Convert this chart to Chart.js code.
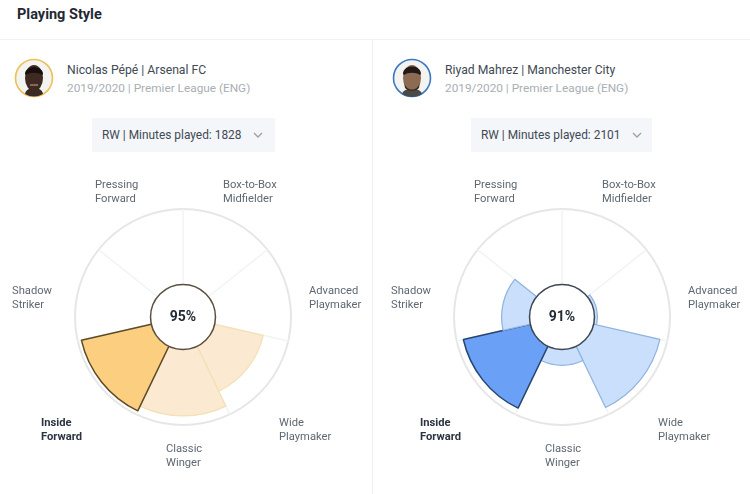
<!DOCTYPE html>
<html>
<head>
<meta charset="utf-8">
<title>Playing Style</title>
<script src="https://cdn.jsdelivr.net/npm/chart.js@4"></script>
<style>
    html, body { margin: 0; padding: 0; background: #fff; }
    body { width: 750px; height: 494px; position: relative; overflow: hidden; font-family: Roboto, sans-serif; }
    h1 { position: absolute; left: 17px; top: 6px; margin: 0; font-size: 14.5px; line-height: 18px; font-weight: 700; color: #1f2933; }
    .hline { position: absolute; left: 0; top: 39px; width: 750px; height: 1px; background: #f0f1f3; }
    .vline { position: absolute; left: 372px; top: 40px; width: 1px; height: 454px; background: #eeeff1; }
    .avatar { position: absolute; top: 58px; width: 40px; height: 40px; }
    .name { position: absolute; top: 63px; font-size: 12.2px; line-height: 15px; color: #414a54; white-space: nowrap; }
    .season { position: absolute; top: 81px; font-size: 11.8px; line-height: 15px; color: #a9aeb4; white-space: nowrap; }
    .select { position: absolute; top: 118px; width: 183px; height: 34px; background: #f4f6f9; font-size: 11.9px; line-height: 34px; color: #414a54; text-indent: 10px; white-space: nowrap; }
    .select svg { position: absolute; left: 161px; top: 14px; }
    canvas { position: absolute; top: 156px; }
</style>
</head>
<body>
<h1>Playing Style</h1>
<div class="hline"></div>
<div class="vline"></div>

<svg class="avatar" style="left:14px" viewBox="0 0 40 40">
    <circle cx="20" cy="20" r="18.5" fill="#f3f3f2" stroke="#eebf55" stroke-width="1.6"/>
    <path d="M11 36c1-5 5-6 9-6s8 1 9 6a18 18 0 0 1-18 0z" fill="#3a2a24"/>
    <ellipse cx="20" cy="20" rx="9" ry="13" fill="#3f2a22"/>
    <path d="M11 16c0-9 18-9 18 0l-1 1c-4-3-12-3-16 0z" fill="#17100e"/>
    <path d="M16 27h8" stroke="#c9a596" stroke-width="1"/>
</svg>
<div class="name" style="left:67px">Nicolas Pépé | Arsenal FC</div>
<div class="season" style="left:67px">2019/2020 | Premier League (ENG)</div>
<div class="select" style="left:92px">RW | Minutes played: 1828
    <svg width="10" height="6" viewBox="0 0 10 6"><path d="M1 1l4 4 4-4" fill="none" stroke="#9aa1a9" stroke-width="1.3"/></svg>
</div>

<svg class="avatar" style="left:392px" viewBox="0 0 40 40">
    <circle cx="20" cy="20" r="18.5" fill="#f3f3f2" stroke="#3b78c2" stroke-width="1.6"/>
    <path d="M10 36c2-5 6-5 10-5s8 0 10 5a18 18 0 0 1-20 0z" fill="#4a4a4a"/>
    <ellipse cx="20" cy="20" rx="9" ry="13" fill="#8d6a52"/>
    <path d="M11 16c0-10 18-10 18 0l-1 1c-4-3-12-3-16 0z" fill="#221a16"/>
    <path d="M12 24c2 10 14 10 16 0l-1 6c-3 4-11 4-14 0z" fill="#3a2c25"/>
</svg>
<div class="name" style="left:445px">Riyad Mahrez | Manchester City</div>
<div class="season" style="left:445px">2019/2020 | Premier League (ENG)</div>
<div class="select" style="left:471px;width:181px">RW | Minutes played: 2101
    <svg width="10" height="6" viewBox="0 0 10 6"><path d="M1 1l4 4 4-4" fill="none" stroke="#9aa1a9" stroke-width="1.3"/></svg>
</div>

<canvas id="pepeChart" width="366" height="322" style="left:0"></canvas>
<canvas id="mahrezChart" width="366" height="322" style="left:379px"></canvas>

<script>
'use strict';

const categories = [
    ['Box-to-Box', 'Midfielder'],
    ['Advanced', 'Playmaker'],
    ['Wide', 'Playmaker'],
    ['Classic', 'Winger'],
    ['Inside', 'Forward'],
    ['Shadow', 'Striker'],
    ['Pressing', 'Forward']
];
const pepeValues = [0, 0, 66, 88, 95, 0, 0];
const mahrezValues = [0, 4, 90, 21, 91, 37, 0];
const pepeScore = '95%';
const mahrezScore = '91%';
const bestIndex = 4;

// label anchor (left edge, vertical middle) relative to the centre of the wheel
const labelOffsets = [[40, -125], [126, -19], [96, 113], [-17, 139], [-142, 113], [-171, -19], [-88, -125]];

const pepeColors = { strong: '#fccf80', strongLine: '#5c4a2a', light: '#fbe9d1', lightLine: '#f4e0b2', ring: '#5a4f3d' };
const mahrezColors = { strong: '#6aa0f6', strongLine: '#27466f', light: '#c9dffc', lightLine: '#8fb3de', ring: '#3c4754' };

// white hub with the score and the labels around the wheel
const wheelExtras = {
    id: 'wheelExtras',
    afterDatasetsDraw(chart, args, opts) {
        const r = chart.scales.r;
        const ctx = chart.ctx;
        ctx.save();
        ctx.beginPath();
        ctx.arc(r.xCenter, r.yCenter, r.getDistanceFromCenterForValue(0), 0, Math.PI * 2);
        ctx.fillStyle = '#fff';
        ctx.fill();
        ctx.lineWidth = 1.5;
        ctx.strokeStyle = opts.ring;
        ctx.stroke();

        ctx.fillStyle = '#1f2933';
        ctx.font = '700 14px Roboto, sans-serif';
        ctx.textAlign = 'center';
        ctx.textBaseline = 'middle';
        ctx.fillText(opts.score, r.xCenter, r.yCenter);

        ctx.textAlign = 'left';
        chart.data.labels.forEach((lines, i) => {
            ctx.font = (i === bestIndex ? '700' : '400') + ' 11.2px Roboto, sans-serif';
            ctx.fillStyle = i === bestIndex ? '#2b3440' : '#5f6873';
            const x = r.xCenter + labelOffsets[i][0];
            const y = r.yCenter + labelOffsets[i][1];
            ctx.fillText(lines[0], x, y - 7);
            ctx.fillText(lines[1], x, y + 7);
        });
        ctx.restore();
    }
};

function drawWheel(canvasId, values, colors, score) {
    const best = Math.max(...values);
    new Chart(document.getElementById(canvasId), {
        type: 'polarArea',
        data: {
            labels: categories,
            datasets: [{
                data: values,
                backgroundColor: values.map(v => v === best ? colors.strong : colors.light),
                borderColor: values.map(v => v === best ? colors.strongLine : v > 0 ? colors.lightLine : 'transparent'),
                borderWidth: values.map(v => v === best ? 1.5 : 1.2)
            }]
        },
        options: {
            responsive: false,
            animation: false,
            layout: { padding: { top: 53, bottom: 53 } },
            plugins: {
                legend: { display: false },
                tooltip: { enabled: false },
                wheelExtras: { score: score, ring: colors.ring }
            },
            scales: {
                r: {
                    min: -43,
                    max: 100,
                    ticks: { display: false, stepSize: 143 },
                    grid: { color: '#e6e6e6', lineWidth: 2, circular: true },
                    angleLines: { display: true, color: '#f1f3f5', lineWidth: 1.5 },
                    pointLabels: { display: false }
                }
            }
        },
        plugins: [wheelExtras]
    });
}

drawWheel('pepeChart', pepeValues, pepeColors, pepeScore);
drawWheel('mahrezChart', mahrezValues, mahrezColors, mahrezScore);
</script>
</body>
</html>
